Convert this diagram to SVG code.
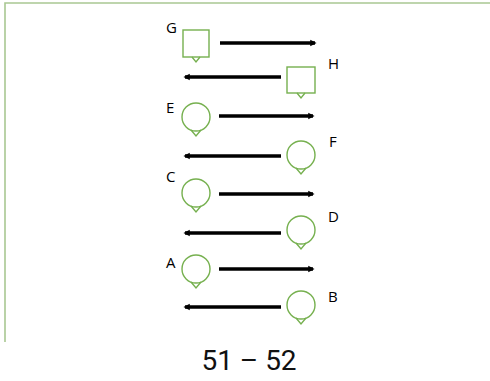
<svg xmlns="http://www.w3.org/2000/svg" width="490" height="381" viewBox="0 0 490 381">
<style>
.n{fill:#fff;stroke:#76b04f;stroke-width:1.4}
.t{fill:none;stroke:#76b04f;stroke-width:1.4}
.lbl{font-family:"Open Sans","Liberation Sans",sans-serif;font-size:15px;fill:#000}
.c line{stroke:#000;stroke-width:3.6;marker-end:url(#ah)}
</style>
<defs>
<marker id="ah" viewBox="0 0 10 10" refX="6" refY="5" markerWidth="2.2" markerHeight="2.2" orient="auto" markerUnits="strokeWidth">
<path d="M0,1 L8,5 L0,9 z" fill="#000"/>
</marker>
</defs>
<rect width="490" height="381" fill="#fff"/>
<g id="frame" fill="none" stroke="#a9c792" stroke-width="1.6">
<path d="M490,3 H5 V342"/>
</g>
<g id="G"><rect class="n" x="183" y="30" width="26" height="27"/><path class="t" d="M192,57 L196,62 L200,57"/><text class="lbl" x="166" y="33">G</text></g>
<g id="H"><rect class="n" x="287" y="67" width="28" height="26"/><path class="t" d="M297,93 L301,98 L305,93"/><text class="lbl" x="328" y="69">H</text></g>
<g id="E"><circle class="n" cx="196" cy="117" r="14"/><path class="t" d="M191,130 L196,136 L201,130"/><text class="lbl" x="166" y="113">E</text></g>
<g id="F"><circle class="n" cx="301" cy="155" r="14"/><path class="t" d="M296,168 L301,174 L306,168"/><text class="lbl" x="329" y="147">F</text></g>
<g id="C"><circle class="n" cx="196" cy="193" r="14"/><path class="t" d="M191,206 L196,212 L201,206"/><text class="lbl" x="166" y="182">C</text></g>
<g id="D"><circle class="n" cx="301" cy="230" r="14"/><path class="t" d="M296,243 L301,249 L306,243"/><text class="lbl" x="328" y="222">D</text></g>
<g id="A"><circle class="n" cx="196" cy="269" r="14"/><path class="t" d="M191,282 L196,288 L201,282"/><text class="lbl" x="166" y="268">A</text></g>
<g id="B"><circle class="n" cx="301" cy="305" r="14"/><path class="t" d="M296,318 L301,324 L306,318"/><text class="lbl" x="328" y="302">B</text></g>
<g id="connectors" class="c">
<line x1="220" y1="43" x2="315" y2="43"/>
<line x1="281" y1="77" x2="185" y2="77"/>
<line x1="219" y1="116" x2="313" y2="116"/>
<line x1="281" y1="156" x2="185" y2="156"/>
<line x1="219" y1="194" x2="313" y2="194"/>
<line x1="281" y1="233" x2="185" y2="233"/>
<line x1="219" y1="269" x2="313" y2="269"/>
<line x1="281" y1="307" x2="185" y2="307"/>
</g>
<text x="249" y="370" text-anchor="middle" font-family="Roboto,'Liberation Sans',sans-serif" font-size="28" fill="#111">51 – 52</text>
</svg>
